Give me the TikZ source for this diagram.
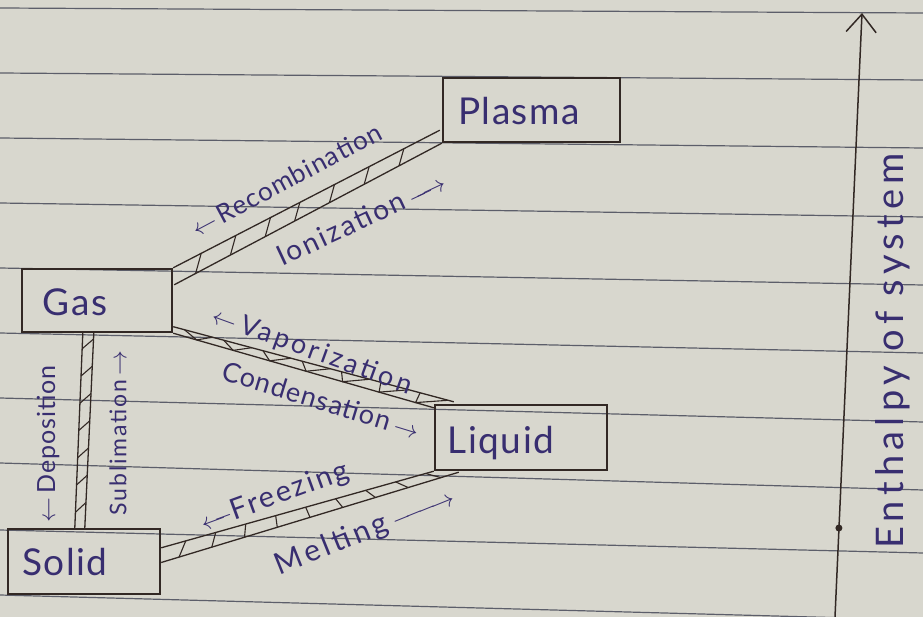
\documentclass[tikz,border=0pt]{standalone}
\usepackage{amsmath}
\usepackage{graphicx}
\usepackage{fontspec}
\setmainfont{Lato}
\newfontfamily\handA[LetterSpace=4]{Lato}
\newfontfamily\handB[LetterSpace=8]{Lato}
\newfontfamily\handC[LetterSpace=12]{Lato}
\newfontfamily\handD[LetterSpace=14]{Lato}
\usetikzlibrary{calc,arrows.meta}
\definecolor{paper}{RGB}{216,215,206}
\definecolor{rulecol}{RGB}{92,94,106}
\definecolor{ink}{RGB}{50,40,36}
\definecolor{pen}{RGB}{56,46,112}
\newcommand{\fsz}[1]{\fontsize{#1}{#1}\selectfont}
\newcommand{\larr}[1]{$\xleftarrow{\hspace*{#1}}$}
\newcommand{\rarr}[1]{$\xrightarrow{\hspace*{#1}}$}
\tikzset{
  box/.style={draw=ink, line width=2.4pt, inner sep=0pt},
  boxtext/.style={text=pen, font=\handA\fsz{37}, inner sep=0pt},
  band/.style={draw=ink, line width=1.3pt},
  hatch/.style={draw=ink, line width=1.1pt},
  lbl/.style={text=pen, inner sep=0pt},
  ruling/.style={draw=rulecol, line width=1.2pt},
  axisline/.style={draw=ink, line width=1.5pt},
}
\begin{document}
\begin{tikzpicture}[x=1pt,y=-1pt]
\useasboundingbox (0,0) rectangle (923,617);
\fill[paper] (0,0) rectangle (923,617);
% ruled paper
\foreach \l/\r in {8/13, 73/80, 138/148, 203/217, 268/285, 333/353, 398/422, 463/490, 530/553, 595/620}
  \draw[ruling] (0,\l) -- (923,\r);

% boxes
\node[box, minimum width=177pt, minimum height=64pt] (plasma) at (531.5,110) {};
\node[box, minimum width=150pt, minimum height=63pt] (gas) at (97,300.5) {};
\node[box, minimum width=172pt, minimum height=65pt] (liquid) at (521,437.5) {};
\node[box, minimum width=152pt, minimum height=65pt] (solid) at (84,561.5) {};
\node[boxtext] (plasmatext) at (519,111) {Plasma};
\node[boxtext] (gastext) at (75,302) {Gas};
\node[boxtext] (liquidtext) at (501,443) {Liquid};
\node[boxtext] (solidtext) at (65,562) {Solid};

% Gas -- Plasma band
\coordinate (gpA) at (gas.north east);
\coordinate (gpB) at ($(plasma.south west)+(-2,-13)$);
\coordinate (gpC) at ($(gas.north east)+(1,17)$);
\coordinate (gpD) at (plasma.south west);
\draw[band] (gpA) -- (gpB);
\draw[band] (gpC) -- (gpD);
\foreach \t in {0.08,0.21,0.34,0.45,0.58,0.71,0.84}
  \draw[hatch] ($(gpC)!\t!(gpD)$) -- ($(gpA)!{\t+0.025}!(gpB)$);

% Gas -- Liquid band
\coordinate (glA) at ($(gas.south east)+(0,-6.5)$);
\coordinate (glB) at ($(liquid.north west)+(20,-2)$);
\coordinate (glC) at (gas.south east);
\coordinate (glD) at ($(liquid.north west)+(0,4)$);
\draw[band] (glA) -- (glB);
\draw[band] (glC) -- (glD);
\foreach \t in {0.04,0.18,0.32,0.46,0.60,0.74,0.88}
  \draw[hatch] ($(glA)!\t!(glB)$) -- ($(glC)!{\t+0.05}!(glD)$) -- ($(glA)!{\t+0.10}!(glB)$);

% Solid -- Liquid band
\coordinate (slA) at ($(solid.north east)+(0,20)$);
\coordinate (slB) at (liquid.south west);
\coordinate (slC) at ($(solid.east)+(0,1)$);
\coordinate (slD) at ($(liquid.south west)+(25,1)$);
\draw[band] (slA) -- (slB);
\draw[band] (slC) -- (slD);
\foreach \t in {0.06,0.17,0.28,0.39,0.50,0.61,0.72,0.83,0.94}
  \draw[hatch] ($(slC)!\t!(slD)$) -- ($(slA)!{\t+0.03}!(slB)$);

% Gas -- Solid band
\coordinate (gsA) at ($(gas.south west)+(62,0)$);
\coordinate (gsB) at ($(solid.north west)+(68,0)$);
\coordinate (gsC) at ($(gas.south west)+(73,0)$);
\coordinate (gsD) at ($(solid.north west)+(78,0)$);
\draw[band] (gsA) -- (gsB);
\draw[band] (gsC) -- (gsD);
\foreach \t in {0.08,0.22,0.36,0.50,0.64,0.78,0.92}
  \draw[hatch] ($(gsA)!\t!(gsB)$) -- ($(gsC)!{\t-0.05}!(gsD)$);

% transition labels
\node[lbl, rotate=28, font=\handA\fsz{26}] (recomb) at (286,180) {$\leftarrow$\,Recombination};
\node[lbl, rotate=25, font=\handB\fsz{28}] (ioniz) at (361,219) {Ionization\,\rarr{24pt}};
\node[lbl, rotate=-20, font=\handC\fsz{27}] (vapor) at (312,351) {$\leftarrow$\,Vaporization};
\node[lbl, rotate=-17, font=\handA\fsz{27}] (conden) at (321,400) {Condensation\,$\rightarrow$};
\node[lbl, rotate=20, font=\handB\fsz{29}] (freez) at (275,497) {\larr{16pt}Freezing};
\node[lbl, rotate=22, font=\handC\fsz{30}] (melt) at (365,532) {Melting\,\rarr{50pt}};
\node[lbl, rotate=90, font=\handA\fsz{25}] (depos) at (48,444) {$\leftarrow$\,Deposition};
\node[lbl, rotate=90, font=\handB\fsz{23}] (sublim) at (118,433) {Sublimation\,$\rightarrow$};

% enthalpy axis
\coordinate (axbot) at (835,617);
\coordinate (axtop) at (862,13);
\draw[axisline, -{Straight Barb[length=18pt,width=30pt,line width=1.5pt]}] (axbot) -- (axtop);
\node[circle, fill=ink, inner sep=0pt, minimum size=7pt] (dot) at (838.9,528) {};
\node[lbl, rotate=90, font=\handD\fsz{38}] (enth) at (893,351) {Enthalpy of system};
\end{tikzpicture}
\end{document}
